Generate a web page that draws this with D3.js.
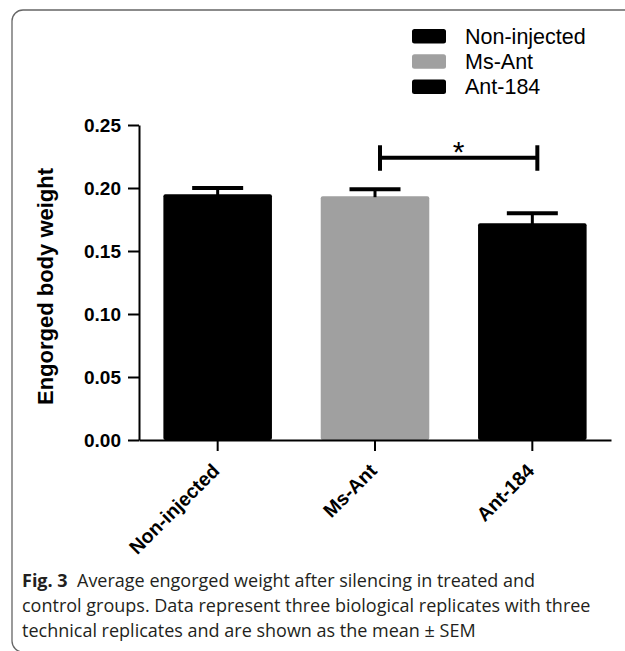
<!DOCTYPE html>
<html>
<head>
<meta charset="utf-8">
<script src="https://cdn.jsdelivr.net/npm/d3@7"></script>
<style>
  body { margin: 0; background: #fff; }
  svg { display: block; }
</style>
</head>
<body>
<script>
// data
const groups = ['Non-injected', 'Ms-Ant', 'Ant-184'];
const means = [0.195, 0.1935, 0.172];
const sems = [0.005, 0.0055, 0.008];
const barColors = ['#000000', '#a0a0a0', '#000000'];
const yTicks = [0.00, 0.05, 0.10, 0.15, 0.20, 0.25];
const sigPair = ['Ms-Ant', 'Ant-184'];
const sigLabel = '*';
const sigLevel = 0.224;
const yLabel = 'Engorged body weight';
const captionBold = 'Fig. 3';
const captionLines = [
  'Average engorged weight after silencing in treated and',
  'control groups. Data represent three biological replicates with three',
  'technical replicates and are shown as the mean \u00b1 SEM'
];

const W = 625, H = 651;
const plot = { left: 139, right: 611, top: 125, bottom: 440 };
const sans = '"Liberation Sans", Arial, sans-serif';

const svg = d3.select('body').append('svg')
  .attr('width', W)
  .attr('height', H);

// frame of the figure panel
svg.append('rect')
  .attr('x', 12).attr('y', 10)
  .attr('width', 700).attr('height', 642)
  .attr('rx', 11)
  .attr('fill', 'none')
  .attr('stroke', '#666')
  .attr('stroke-width', 1.3);

const y = d3.scaleLinear()
  .domain([0, 0.25])
  .range([plot.bottom, plot.top]);

const x = d3.scaleBand()
  .domain(groups)
  .range([plot.left, plot.right])
  .paddingInner(0.31)
  .paddingOuter(0.155);

const cx = d => x(d) + x.bandwidth() / 2;

// bars
svg.append('g').selectAll('rect')
  .data(groups)
  .join('rect')
  .attr('x', d => x(d))
  .attr('y', (d, i) => y(means[i]))
  .attr('width', x.bandwidth())
  .attr('height', (d, i) => y(0) - y(means[i]))
  .attr('rx', 2)
  .attr('fill', (d, i) => barColors[i]);

// error bars (upper only)
const err = svg.append('g').attr('stroke', '#000');
err.selectAll('line.stem')
  .data(groups)
  .join('line')
  .attr('class', 'stem')
  .attr('x1', d => cx(d)).attr('x2', d => cx(d))
  .attr('y1', (d, i) => y(means[i]) + 1)
  .attr('y2', (d, i) => y(means[i] + sems[i]))
  .attr('stroke-width', 3);
err.selectAll('line.cap')
  .data(groups)
  .join('line')
  .attr('class', 'cap')
  .attr('x1', d => cx(d) - 25.5).attr('x2', d => cx(d) + 25.5)
  .attr('y1', (d, i) => y(means[i] + sems[i]))
  .attr('y2', (d, i) => y(means[i] + sems[i]))
  .attr('stroke-width', 4);

// y axis
const yAxis = d3.axisLeft(y)
  .tickValues(yTicks)
  .tickSize(11)
  .tickSizeOuter(0)
  .tickPadding(7)
  .tickFormat(d3.format('.2f'));

const gy = svg.append('g')
  .attr('transform', `translate(${plot.left},0)`)
  .call(yAxis);
gy.attr('font-family', null).attr('font-size', null);
gy.select('.domain').attr('stroke-width', 2);
gy.selectAll('.tick line').attr('stroke-width', 2);
gy.selectAll('.tick text')
  .style('font-family', sans)
  .attr('font-weight', 'bold')
  .style('font-size', '19px')
  .attr('fill', '#000');

// x axis
const xAxis = d3.axisBottom(x)
  .tickSize(11)
  .tickSizeOuter(0);

const gx = svg.append('g')
  .attr('transform', `translate(0,${plot.bottom})`)
  .call(xAxis);
gx.attr('font-family', null).attr('font-size', null);
gx.select('.domain').attr('stroke-width', 2);
gx.selectAll('.tick line').attr('stroke-width', 2);
gx.selectAll('.tick text')
  .style('font-family', sans)
  .attr('font-weight', 'bold')
  .style('font-size', '19.5px')
  .attr('fill', '#000')
  .attr('text-anchor', 'end')
  .attr('dy', null)
  .attr('y', null)
  .attr('transform', 'translate(3,32) rotate(-45)');

// y axis title
svg.append('text')
  .attr('transform', `translate(53,${(plot.top + plot.bottom) / 2 + 4}) rotate(-90)`)
  .attr('text-anchor', 'middle')
  .style('font-family', sans)
  .attr('font-weight', 'bold')
  .style('font-size', '22px')
  .text(yLabel);

// significance bracket
const sx1 = cx(sigPair[0]) + 5, sx2 = cx(sigPair[1]) + 5;
const sy = y(sigLevel);
const sig = svg.append('g').attr('stroke', '#000').attr('stroke-width', 4);
sig.append('line').attr('x1', sx1).attr('x2', sx2).attr('y1', sy).attr('y2', sy);
sig.append('line').attr('x1', sx1).attr('x2', sx1).attr('y1', sy - 12.5).attr('y2', sy + 13);
sig.append('line').attr('x1', sx2).attr('x2', sx2).attr('y1', sy - 12.5).attr('y2', sy + 13);
svg.append('text')
  .attr('x', (sx1 + sx2) / 2)
  .attr('y', sy + 4)
  .attr('text-anchor', 'middle')
  .style('font-family', sans)
  .style('font-size', '30px')
  .text(sigLabel);

// legend
const legend = svg.append('g')
  .style('font-family', sans)
  .style('font-size', '21.5px');
const rows = legend.selectAll('g')
  .data(groups)
  .join('g')
  .attr('transform', (d, i) => `translate(412,${43.5 + i * 25.3})`);
rows.append('rect')
  .attr('x', 0).attr('y', -14.5)
  .attr('width', 34).attr('height', 14.5)
  .attr('rx', 2.5)
  .attr('fill', (d, i) => barColors[i]);
rows.append('text')
  .attr('x', 53)
  .attr('y', 0)
  .attr('fill', '#000')
  .text(d => d);

// caption
const cap = svg.append('g')
  .style('font-family', '"Open Sans", "Noto Sans", sans-serif')
  .style('font-size', '18px')
  .attr('fill', '#231f20');
captionLines.forEach((line, i) => {
  const t = cap.append('text')
    .attr('x', 22)
    .attr('y', 587 + i * 25);
  if (i === 0) {
    t.append('tspan').attr('font-weight', 'bold').text(captionBold + '\u00a0\u00a0');
  }
  t.append('tspan').text(line);
});
</script>
</body>
</html>
